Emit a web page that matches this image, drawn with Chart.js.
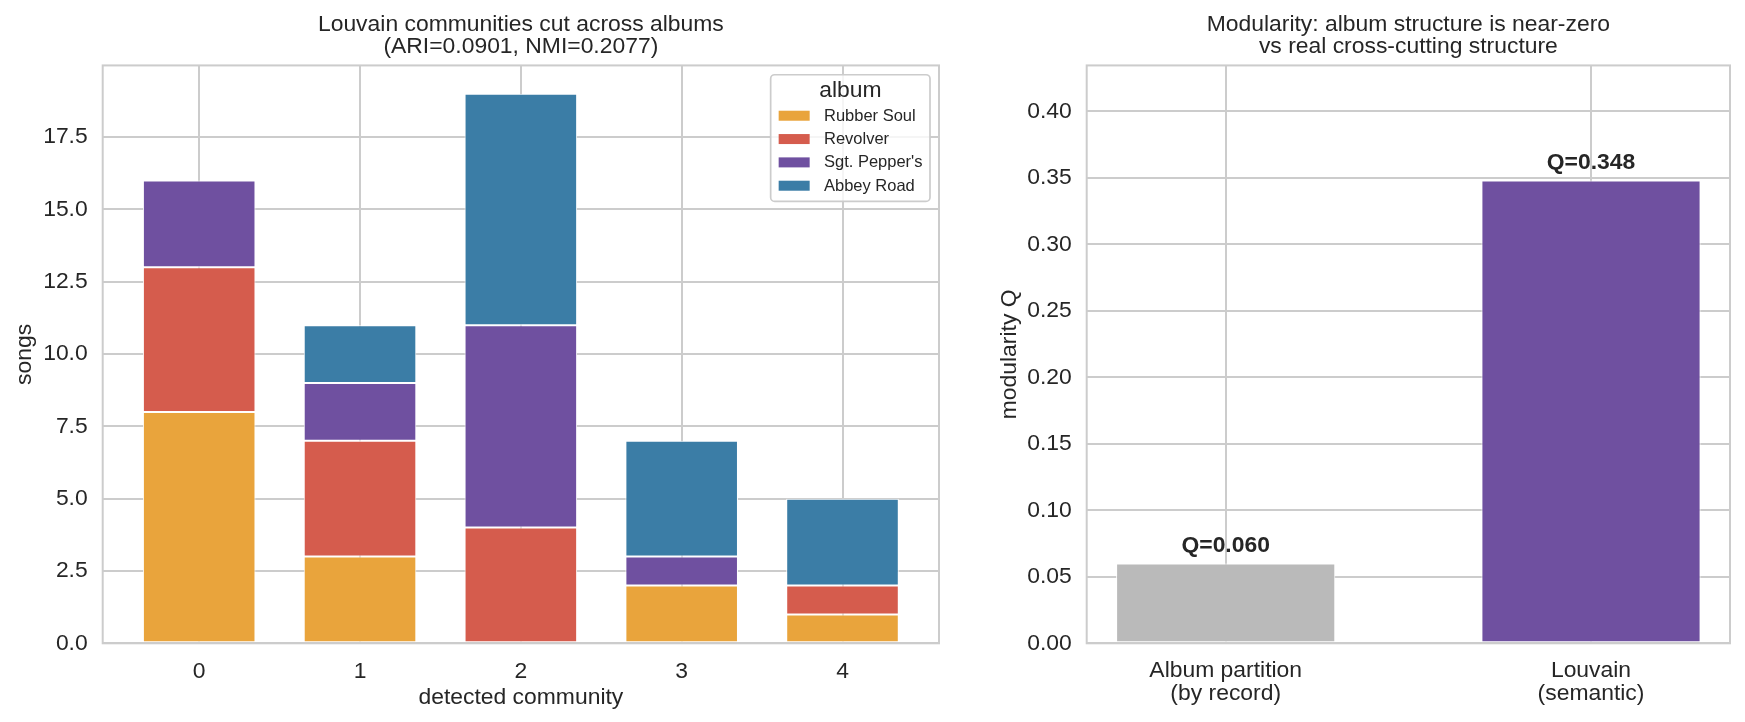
<!DOCTYPE html>
<html><head><meta charset="utf-8">
<script src="https://cdn.jsdelivr.net/npm/chart.js@4.4.1/dist/chart.umd.min.js"></script>
<style>
html,body{margin:0;padding:0;background:#fff;}
#wrap{position:relative;width:1745px;height:722px;overflow:hidden;background:#fff;}
canvas{position:absolute;top:0;}
</style></head><body>
<div id="wrap">
<canvas id="c1" width="990" height="722" style="left:0;width:990px;height:722px"></canvas>
<canvas id="c2" width="755" height="722" style="left:990px;width:755px;height:722px"></canvas>
</div>
<script>
// ---- data ----
const communities = ['0', '1', '2', '3', '4'];
const albums = ['Rubber Soul', 'Revolver', "Sgt. Pepper's", 'Abbey Road'];
const rubberSoul = [8, 3, 0, 2, 1];
const revolver   = [5, 4, 4, 0, 1];
const sgtPepper  = [3, 2, 7, 1, 0];
const abbeyRoad  = [0, 2, 8, 4, 3];
const songTicks = [0, 2.5, 5, 7.5, 10, 12.5, 15, 17.5];
const partitions = [['Album partition', '(by record)'], ['Louvain', '(semantic)']];
const modularity = [0.060, 0.348];
const modTicks = [0, 0.05, 0.10, 0.15, 0.20, 0.25, 0.30, 0.35, 0.40];

// ---- style ----
const FONT = "'Liberation Sans', Arial, Helvetica, sans-serif";
const INK = '#262626';
const GRID = '#cccccc';
const FS = 22.9;
const albumColors = ['#e9a43c', '#d55c4d', '#6f50a0', '#3b7da6'];
const modColors = ['#bababa', '#6f50a0'];
Chart.defaults.font.family = FONT;
Chart.defaults.color = INK;

const framePlugin = {
  id: 'frame',
  afterDatasetsDraw(chart) {
    const a = chart.chartArea, c = chart.ctx;
    c.save();
    c.strokeStyle = GRID; c.lineWidth = 2;
    c.strokeRect(a.left, a.top, a.right - a.left, a.bottom - a.top);
    c.restore();
  }
};

const legendPlugin = {
  id: 'albumLegend',
  afterDraw(chart) {
    const a = chart.chartArea, c = chart.ctx;
    const ds = chart.data.datasets;
    c.save();
    c.font = `16.5px ${FONT}`;
    const maxW = Math.max(...ds.map(d => c.measureText(d.label).width));
    const patchW = 31, w = 8 + patchW + 14.3 + maxW + 7.5, h = 126.7;
    const x = a.right - 9 - w, y = a.top + 9.3;
    c.beginPath();
    c.roundRect(x, y, w, h, 4);
    c.fillStyle = 'rgba(255,255,255,0.8)';
    c.fill();
    c.strokeStyle = GRID; c.lineWidth = 1.7;
    c.stroke();
    c.fillStyle = INK;
    c.textBaseline = 'middle';
    c.textAlign = 'center';
    c.font = `${FS}px ${FONT}`;
    c.fillText('album', x + w / 2, y + 16);
    c.font = `16.5px ${FONT}`;
    c.textAlign = 'left';
    ds.forEach((d, i) => {
      const cy = y + 41 + i * 23.33;
      c.fillStyle = d.backgroundColor;
      c.fillRect(x + 8, cy - 5, patchW, 10);
      c.fillStyle = INK;
      c.fillText(d.label, x + 8 + patchW + 14.3, cy + 0.5);
    });
    c.restore();
  }
};

const valueLabelPlugin = {
  id: 'valueLabels',
  afterDatasetsDraw(chart) {
    const c = chart.ctx;
    const meta = chart.getDatasetMeta(0);
    c.save();
    c.font = `bold ${FS}px ${FONT}`;
    c.fillStyle = INK;
    c.textAlign = 'center';
    c.textBaseline = 'middle';
    meta.data.forEach((bar, i) => {
      c.fillText('Q=' + modularity[i].toFixed(3), bar.x, bar.y - 17.5);
    });
    c.restore();
  }
};

const seriesList = [rubberSoul, revolver, sgtPepper, abbeyRoad];
const titleFont = { size: FS, weight: 'normal', lineHeight: 0.97 };
const titlePad = { top: 13.1, bottom: 7.9 };

new Chart(document.getElementById('c1'), {
  type: 'bar',
  data: {
    datasets: seriesList.map((s, k) => ({
      label: albums[k],
      data: s.map((v, i) => ({ x: i, y: v })),
      backgroundColor: albumColors[k],
      borderColor: '#ffffff',
      borderWidth: 1,
      borderSkipped: false,
      barPercentage: 0.7,
      categoryPercentage: 1.0
    }))
  },
  options: {
    responsive: false,
    animation: false,
    devicePixelRatio: 1,
    layout: { padding: { left: 0, right: 51, top: 0, bottom: 0 } },
    plugins: {
      legend: { display: false },
      tooltip: { enabled: false },
      title: {
        display: true,
        fullSize: false,
        text: ['Louvain communities cut across albums', '(ARI=0.0901, NMI=0.2077)'],
        color: INK,
        font: titleFont,
        padding: titlePad
      }
    },
    scales: {
      x: {
        type: 'linear', min: -0.6, max: 4.6, stacked: true, offset: false,
        afterBuildTicks(s) { s.ticks = communities.map((_, i) => ({ value: i })); },
        afterFit(s) { s.height = 78.7; },
        ticks: { callback: v => communities[v], font: { size: FS, lineHeight: 1.0 }, padding: 16.5, maxRotation: 0, autoSkip: false, color: INK },
        grid: { color: GRID, lineWidth: 2, drawTicks: false, offset: false },
        border: { display: false },
        title: { display: true, text: 'detected community', color: INK, font: { size: FS }, padding: { top: 0, bottom: 11 } }
      },
      y: {
        min: 0, max: 19.98, stacked: true,
        afterBuildTicks(s) { s.ticks = songTicks.map(v => ({ value: v })); },
        afterFit(s) { s.width = 102.7; },
        ticks: { callback: v => v.toFixed(1), font: { size: FS }, padding: 15, color: INK },
        grid: { color: GRID, lineWidth: 2, drawTicks: false },
        border: { display: false },
        title: { display: true, text: 'songs', color: INK, font: { size: FS }, padding: { top: 11, bottom: 0 } }
      }
    }
  },
  plugins: [framePlugin, legendPlugin]
});

new Chart(document.getElementById('c2'), {
  type: 'bar',
  data: {
    datasets: [{
      label: 'modularity Q',
      data: modularity.map((v, i) => ({ x: i, y: v })),
      backgroundColor: modColors,
      borderColor: '#ffffff',
      borderWidth: 1,
      borderSkipped: false,
      barPercentage: 0.6,
      categoryPercentage: 1.0
    }]
  },
  options: {
    responsive: false,
    animation: false,
    devicePixelRatio: 1,
    layout: { padding: { left: 0, right: 15, top: 0, bottom: 0 } },
    plugins: {
      legend: { display: false },
      tooltip: { enabled: false },
      title: {
        display: true,
        fullSize: false,
        text: ['Modularity: album structure is near-zero', 'vs real cross-cutting structure'],
        color: INK,
        font: titleFont,
        padding: titlePad
      }
    },
    scales: {
      x: {
        type: 'linear', min: -0.3805, max: 1.3805, offset: false,
        afterBuildTicks(s) { s.ticks = partitions.map((_, i) => ({ value: i })); },
        afterFit(s) { s.height = 78.7; },
        ticks: { callback: v => partitions[v], font: { size: FS, lineHeight: 0.98 }, padding: 16.5, maxRotation: 0, autoSkip: false, color: INK },
        grid: { color: GRID, lineWidth: 2, drawTicks: false, offset: false },
        border: { display: false }
      },
      y: {
        min: 0, max: 0.4346,
        afterBuildTicks(s) { s.ticks = modTicks.map(v => ({ value: v })); },
        afterFit(s) { s.width = 96.7; },
        ticks: { callback: v => v.toFixed(2), font: { size: FS }, padding: 15, color: INK },
        grid: { color: GRID, lineWidth: 2, drawTicks: false },
        border: { display: false },
        title: { display: true, text: 'modularity Q', color: INK, font: { size: FS }, padding: { top: 6, bottom: 0 } }
      }
    }
  },
  plugins: [framePlugin, valueLabelPlugin]
});
</script>
</body></html>
